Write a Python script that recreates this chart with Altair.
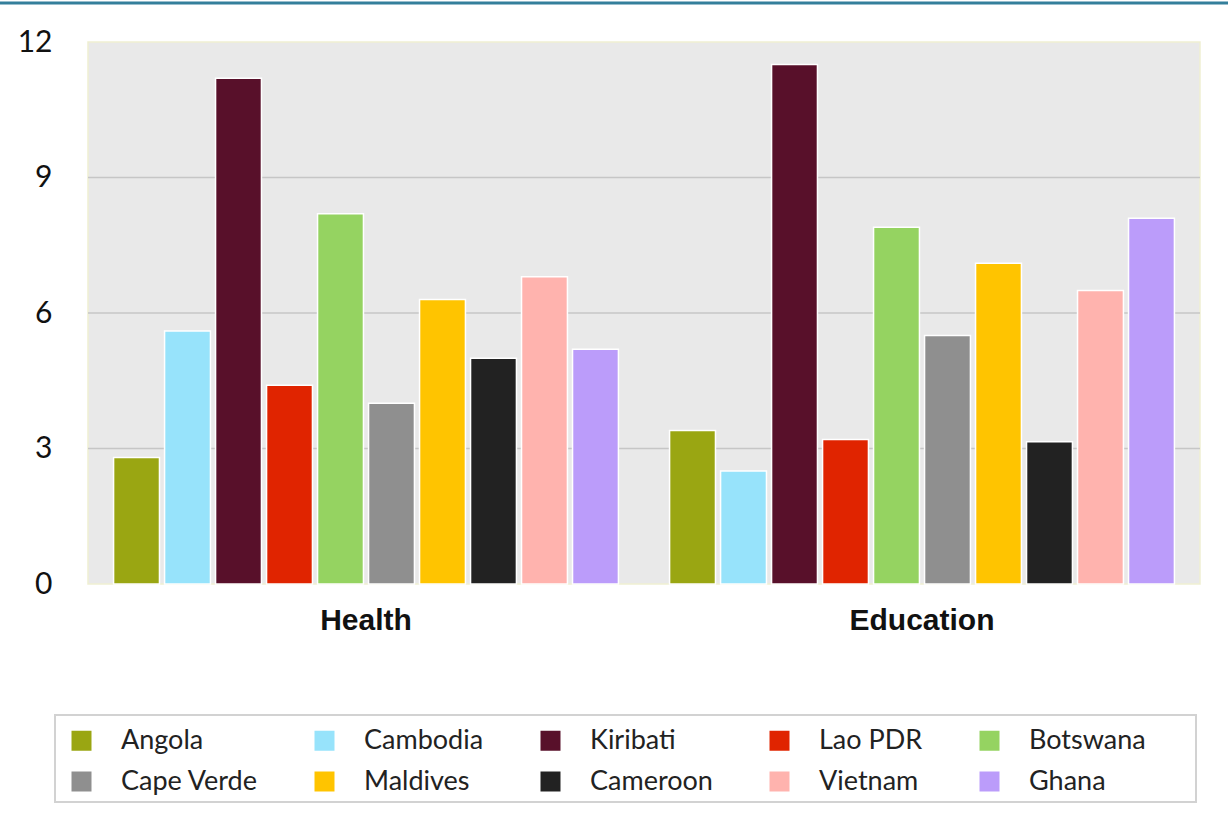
import altair as alt
import pandas as pd

countries = ["Angola", "Cambodia", "Kiribati", "Lao PDR", "Botswana",
             "Cape Verde", "Maldives", "Cameroon", "Vietnam", "Ghana"]
colors = ["#9aa612", "#97e3fb", "#58102a", "#e02400", "#95d361",
          "#8f8f8f", "#ffc400", "#222222", "#ffb3ae", "#bb9cfa"]
sectors = ["Health", "Education"]
health = [2.8, 5.6, 11.2, 4.4, 8.2, 4.0, 6.3, 5.0, 6.8, 5.2]
education = [3.4, 2.5, 11.5, 3.2, 7.9, 5.5, 7.1, 3.15, 6.5, 8.1]
y_ticks = [0, 3, 6, 9, 12]
grid_ticks = [3, 6, 9]

rows = []
for s, vals in zip(sectors, [health, education]):
    for c, v in zip(countries, vals):
        rows.append({"sector": s, "country": c, "value": v})
df = pd.DataFrame(rows)

yscale = alt.Scale(domain=[0, 12], nice=False, zero=True)
yaxis = alt.Axis(values=y_ticks, title=None, grid=False, domain=False,
                 ticks=False, labelFont="Lato", labelFontSize=30,
                 labelPadding=36, labelColor="#111111")

grid = alt.Chart(pd.DataFrame({"v": grid_ticks})).mark_rule(
    color="#c6c6c6", strokeWidth=1.5
).encode(y=alt.Y("v:Q", scale=yscale, axis=yaxis))

bars = alt.Chart(df).mark_bar(stroke="white", strokeWidth=1.5).encode(
    x=alt.X("sector:N", sort=sectors,
            scale=alt.Scale(paddingInner=0.092, paddingOuter=0.046),
            axis=alt.Axis(title=None, labelAngle=0, labelFont="Liberation Sans",
                          labelFontWeight="bold", labelFontSize=30,
                          labelColor="#111111", labelPadding=21,
                          domain=False, ticks=False)),
    xOffset=alt.XOffset("country:N", sort=countries,
                        scale=alt.Scale(paddingInner=0.1, paddingOuter=0.0)),
    y=alt.Y("value:Q", scale=yscale, axis=yaxis),
    color=alt.Color("country:N", sort=countries,
                    scale=alt.Scale(domain=countries, range=colors),
                    legend=alt.Legend(title=None, orient="none", direction="horizontal",
                                      columns=5, legendX=-20, legendY=685,
                                      symbolType="square", symbolSize=400,
                                      symbolStrokeWidth=0, symbolOpacity=1,
                                      labelFont="Lato", labelFontSize=27,
                                      labelColor="#222222", labelOffset=26,
                                      columnPadding=53, rowPadding=13,
                                      labelLimit=300))
)

top_line = alt.Chart(pd.DataFrame({"a": [0]})).mark_rule(
    color="#347f9b", strokeWidth=3
).encode(x=alt.value(-88), x2=alt.value(1140), y=alt.value(-39))

legend_box = alt.Chart(pd.DataFrame({"a": [0]})).mark_rect(
    fillOpacity=0, stroke="#d2d2d2", strokeWidth=2
).encode(x=alt.value(-33), x2=alt.value(1108), y=alt.value(673), y2=alt.value(760))

chart = alt.layer(grid, bars, top_line, legend_box).properties(
    width=1112, height=542,
    autosize=alt.AutoSizeParams(type="none"),
    padding={"left": 88, "top": 42, "right": 28, "bottom": 232},
    background="white",
).configure_view(fill="#e9e9e9", stroke="#efefd2", strokeWidth=1.5)

chart.save("out.html", embed_options={"renderer": "svg", "actions": False})
